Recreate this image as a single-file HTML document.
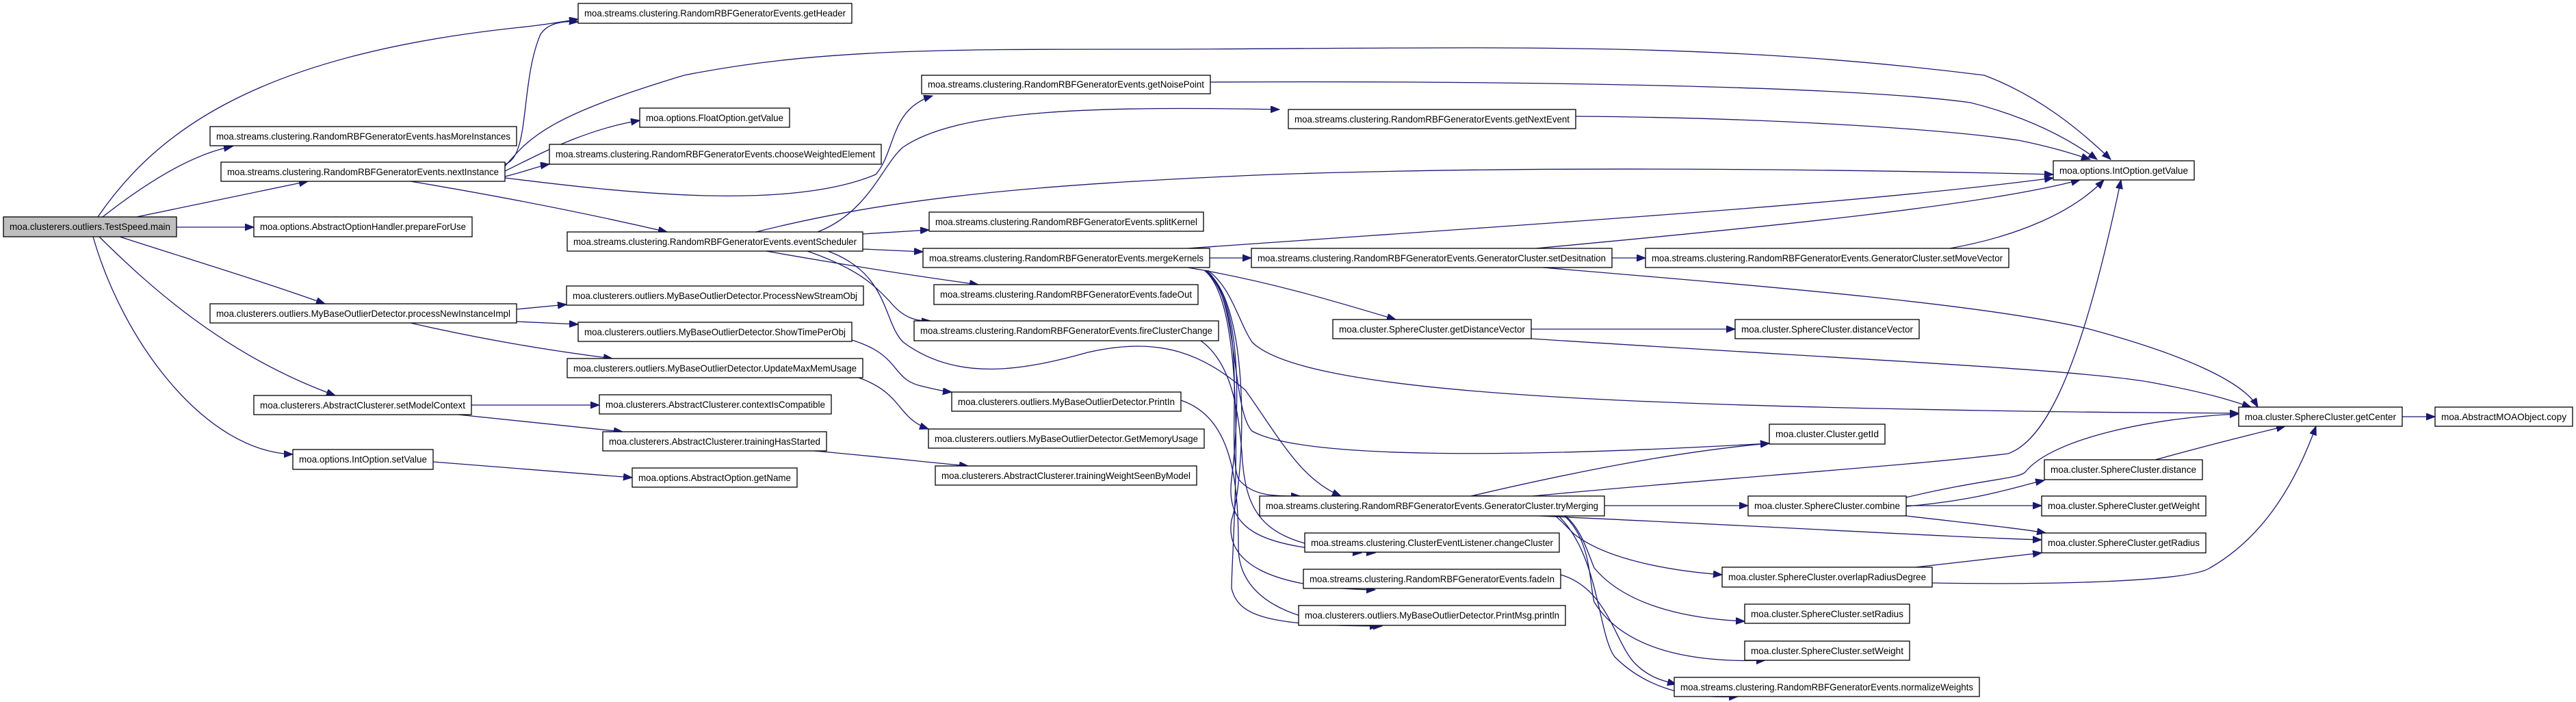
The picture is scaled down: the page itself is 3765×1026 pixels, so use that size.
<!DOCTYPE html>
<html><head><meta charset="utf-8"><style>
html,body{margin:0;padding:0;background:#fff;}
svg{display:block;}
text{font-family:"Liberation Sans",sans-serif;font-size:14px;fill:#000;}
.e{fill:none;stroke:#191970;stroke-width:1.3;marker-end:url(#a);}
rect{fill:#fff;stroke:#000;stroke-width:1.3;}
</style></head><body>
<svg width="3765" height="1026" viewBox="0 0 3765 1026" xmlns="http://www.w3.org/2000/svg">
<defs><marker id="a" markerUnits="userSpaceOnUse" markerWidth="14" markerHeight="12" refX="13" refY="5" orient="auto"><path d="M0,0 L13,5 L0,10 z" fill="#191970" stroke="#191970"/></marker></defs>

<!-- edges -->
<path class="e" d="M143,317 C230,190 380,80 760,40 C800,36 820,32 845,28"/>
<path class="e" d="M150,317 C210,270 280,225 340,214"/>
<path class="e" d="M200,317 C280,300 380,280 450,265"/>
<path class="e" d="M258,332 L371,332"/>
<path class="e" d="M175,346 C280,380 380,410 475,444"/>
<path class="e" d="M145,346 C220,420 330,520 490,578"/>
<path class="e" d="M136,346 C180,500 300,660 428,664"/>
<path class="e" d="M738,240 C775,230 760,120 790,50 C800,35 820,30 845,32"/>
<path class="e" d="M738,243 C775,200 800,170 1000,110 C1200,70 1400,72 1700,72 C2200,70 2500,60 2900,110 C2980,140 3040,190 3085,233"/>
<path class="e" d="M738,250 C780,230 850,190 935,176"/>
<path class="e" d="M738,258 C770,250 790,242 803,240"/>
<path class="e" d="M600,265 C720,285 850,310 975,339"/>
<path class="e" d="M738,260 C900,280 1150,310 1280,255 C1310,220 1300,160 1363,140"/>
<path class="e" d="M1105,339 C1300,290 1500,270 1860,255 C2300,240 2800,250 3001,255"/>
<path class="e" d="M1769,120 C2200,118 2700,125 2880,150 C2960,170 3020,200 3065,233"/>
<path class="e" d="M1195,339 C1270,310 1290,240 1320,215 C1400,160 1600,155 1870,160"/>
<path class="e" d="M2303,170 C2600,172 2850,190 2950,205 C3000,215 3030,225 3055,233"/>
<path class="e" d="M1261,342 L1358,336"/>
<path class="e" d="M1261,364 L1349,368"/>
<path class="e" d="M1120,367 C1250,390 1350,405 1430,416"/>
<path class="e" d="M1180,367 C1260,395 1280,420 1300,440 C1320,465 1340,470 1360,469"/>
<path class="e" d="M1210,367 C1300,400 1290,470 1320,500 C1400,560 1500,540 1590,515 C1700,490 1760,520 1820,570 C1870,640 1900,700 1960,725"/>
<path class="e" d="M1768,377 L1829,377"/>
<path class="e" d="M1736,363 C2200,330 2700,300 3001,260"/>
<path class="e" d="M1736,391 C1850,410 1950,440 2040,467"/>
<path class="e" d="M1765,395 C1800,420 1810,470 1830,500 C1900,570 2300,590 2900,600 C3050,603 3150,603 3272,604"/>
<path class="e" d="M1763,395 C1810,430 1800,600 1830,630 C1900,670 2200,670 2586,648"/>
<path class="e" d="M1762,395 C1820,440 1810,620 1800,700 C1790,780 1850,800 1990,808"/>
<path class="e" d="M1761,395 C1830,440 1820,700 1800,760 C1790,820 1850,860 2010,862"/>
<path class="e" d="M1760,395 C1830,450 1800,800 1800,860 C1810,900 1850,915 2020,915"/>
<path class="e" d="M1762,395 C1830,460 1790,650 1810,700 C1830,725 1860,725 1900,725"/>
<path class="e" d="M2356,377 L2405,377"/>
<path class="e" d="M2245,363 C2600,330 2900,300 3040,263"/>
<path class="e" d="M2255,391 C2600,420 2900,445 3050,480 C3200,520 3280,560 3300,595"/>
<path class="e" d="M2850,363 C2950,345 3030,310 3075,263"/>
<path class="e" d="M2238,481 L2536,481"/>
<path class="e" d="M2238,495 C2700,525 3050,540 3150,560 C3230,575 3260,585 3290,595"/>
<path class="e" d="M1755,498 C1800,530 1810,600 1815,660 C1820,760 1850,800 2010,808"/>
<path class="e" d="M1726,585 C1800,610 1810,700 1810,800 C1810,880 1900,915 2015,915"/>
<path class="e" d="M2150,725 C2300,690 2450,660 2586,648"/>
<path class="e" d="M2240,725 C2500,700 2800,680 2935,663 C3000,640 3050,500 3100,263"/>
<path class="e" d="M2345,739 L2555,739"/>
<path class="e" d="M2250,754 C2600,770 2850,785 2984,789"/>
<path class="e" d="M2786,727 C2900,700 2950,700 2960,690 C3000,640 3150,610 3272,605"/>
<path class="e" d="M2786,740 C2900,730 2950,710 2988,702"/>
<path class="e" d="M2786,739 L2984,739"/>
<path class="e" d="M2786,754 C2880,765 2950,772 2990,779"/>
<path class="e" d="M2800,829 C2880,820 2950,812 2984,808"/>
<path class="e" d="M2824,852 C3000,855 3200,850 3230,830 C3300,790 3350,720 3385,623"/>
<path class="e" d="M3150,672 C3230,650 3290,635 3340,623"/>
<path class="e" d="M3511,609 L3559,609"/>
<path class="e" d="M2150,725 C2250,720 2270,750 2300,780 C2350,820 2450,835 2517,840"/>
<path class="e" d="M2200,725 C2300,730 2310,780 2330,830 C2380,890 2480,905 2550,908"/>
<path class="e" d="M2220,725 C2330,740 2320,840 2330,880 C2380,960 2500,968 2580,965"/>
<path class="e" d="M2230,725 C2340,760 2330,920 2360,960 C2420,1020 2500,1020 2540,1018"/>
<path class="e" d="M2281,840 C2350,860 2360,940 2390,970 C2410,990 2430,995 2450,1000"/>
<path class="e" d="M755,452 L828,445"/>
<path class="e" d="M755,470 L845,474"/>
<path class="e" d="M600,472 C700,495 800,512 895,524"/>
<path class="e" d="M1245,497 C1320,520 1300,555 1350,565 C1370,570 1380,572 1391,573"/>
<path class="e" d="M1255,552 C1320,575 1310,610 1357,627"/>
<path class="e" d="M689,592 L876,592"/>
<path class="e" d="M670,606 C760,615 850,625 910,631"/>
<path class="e" d="M1190,659 C1290,668 1360,676 1415,681"/>
<path class="e" d="M633,675 C750,685 850,692 924,698"/>

<!-- nodes -->
<rect x="5" y="317" width="253" height="29" style="fill:#bfbfbf"/><text x="131.5" y="336" text-anchor="middle" textLength="235" lengthAdjust="spacingAndGlyphs">moa.clusterers.outliers.TestSpeed.main</text>
<rect x="845" y="5" width="400" height="29"/><text x="1045" y="24" text-anchor="middle" textLength="382" lengthAdjust="spacingAndGlyphs">moa.streams.clustering.RandomRBFGeneratorEvents.getHeader</text>
<rect x="307" y="185" width="448" height="28"/><text x="531" y="204" text-anchor="middle" textLength="430" lengthAdjust="spacingAndGlyphs">moa.streams.clustering.RandomRBFGeneratorEvents.hasMoreInstances</text>
<rect x="323" y="237" width="415" height="28"/><text x="530.5" y="256" text-anchor="middle" textLength="397" lengthAdjust="spacingAndGlyphs">moa.streams.clustering.RandomRBFGeneratorEvents.nextInstance</text>
<rect x="371" y="317" width="319" height="29"/><text x="530.5" y="336" text-anchor="middle" textLength="301" lengthAdjust="spacingAndGlyphs">moa.options.AbstractOptionHandler.prepareForUse</text>
<rect x="307" y="444" width="448" height="28"/><text x="531" y="463" text-anchor="middle" textLength="430" lengthAdjust="spacingAndGlyphs">moa.clusterers.outliers.MyBaseOutlierDetector.processNewInstanceImpl</text>
<rect x="371" y="578" width="318" height="28"/><text x="530" y="597" text-anchor="middle" textLength="300" lengthAdjust="spacingAndGlyphs">moa.clusterers.AbstractClusterer.setModelContext</text>
<rect x="428" y="657" width="205" height="29"/><text x="530.5" y="676" text-anchor="middle" textLength="187" lengthAdjust="spacingAndGlyphs">moa.options.IntOption.setValue</text>
<rect x="935" y="158" width="219" height="28"/><text x="1044.5" y="177" text-anchor="middle" textLength="201" lengthAdjust="spacingAndGlyphs">moa.options.FloatOption.getValue</text>
<rect x="803" y="211" width="485" height="29"/><text x="1045.5" y="230" text-anchor="middle" textLength="467" lengthAdjust="spacingAndGlyphs">moa.streams.clustering.RandomRBFGeneratorEvents.chooseWeightedElement</text>
<rect x="1347" y="110" width="422" height="27"/><text x="1558" y="128" text-anchor="middle" textLength="404" lengthAdjust="spacingAndGlyphs">moa.streams.clustering.RandomRBFGeneratorEvents.getNoisePoint</text>
<rect x="829" y="339" width="432" height="28"/><text x="1045" y="358" text-anchor="middle" textLength="414" lengthAdjust="spacingAndGlyphs">moa.streams.clustering.RandomRBFGeneratorEvents.eventScheduler</text>
<rect x="1358" y="310" width="401" height="28"/><text x="1558.5" y="329" text-anchor="middle" textLength="383" lengthAdjust="spacingAndGlyphs">moa.streams.clustering.RandomRBFGeneratorEvents.splitKernel</text>
<rect x="1349" y="363" width="419" height="28"/><text x="1558.5" y="382" text-anchor="middle" textLength="401" lengthAdjust="spacingAndGlyphs">moa.streams.clustering.RandomRBFGeneratorEvents.mergeKernels</text>
<rect x="1365" y="416" width="386" height="29"/><text x="1558" y="435" text-anchor="middle" textLength="368" lengthAdjust="spacingAndGlyphs">moa.streams.clustering.RandomRBFGeneratorEvents.fadeOut</text>
<rect x="1336" y="469" width="445" height="29"/><text x="1558.5" y="488" text-anchor="middle" textLength="427" lengthAdjust="spacingAndGlyphs">moa.streams.clustering.RandomRBFGeneratorEvents.fireClusterChange</text>
<rect x="828" y="418" width="434" height="28"/><text x="1045" y="437" text-anchor="middle" textLength="416" lengthAdjust="spacingAndGlyphs">moa.clusterers.outliers.MyBaseOutlierDetector.ProcessNewStreamObj</text>
<rect x="845" y="471" width="400" height="28"/><text x="1045" y="490" text-anchor="middle" textLength="382" lengthAdjust="spacingAndGlyphs">moa.clusterers.outliers.MyBaseOutlierDetector.ShowTimePerObj</text>
<rect x="829" y="524" width="432" height="28"/><text x="1045" y="543" text-anchor="middle" textLength="414" lengthAdjust="spacingAndGlyphs">moa.clusterers.outliers.MyBaseOutlierDetector.UpdateMaxMemUsage</text>
<rect x="876" y="577" width="339" height="28"/><text x="1045.5" y="596" text-anchor="middle" textLength="321" lengthAdjust="spacingAndGlyphs">moa.clusterers.AbstractClusterer.contextIsCompatible</text>
<rect x="881" y="631" width="327" height="28"/><text x="1044.5" y="650" text-anchor="middle" textLength="309" lengthAdjust="spacingAndGlyphs">moa.clusterers.AbstractClusterer.trainingHasStarted</text>
<rect x="924" y="684" width="241" height="28"/><text x="1044.5" y="703" text-anchor="middle" textLength="223" lengthAdjust="spacingAndGlyphs">moa.options.AbstractOption.getName</text>
<rect x="1391" y="573" width="335" height="28"/><text x="1558.5" y="592" text-anchor="middle" textLength="317" lengthAdjust="spacingAndGlyphs">moa.clusterers.outliers.MyBaseOutlierDetector.PrintIn</text>
<rect x="1357" y="627" width="403" height="28"/><text x="1558.5" y="646" text-anchor="middle" textLength="385" lengthAdjust="spacingAndGlyphs">moa.clusterers.outliers.MyBaseOutlierDetector.GetMemoryUsage</text>
<rect x="1367" y="681" width="382" height="28"/><text x="1558" y="700" text-anchor="middle" textLength="364" lengthAdjust="spacingAndGlyphs">moa.clusterers.AbstractClusterer.trainingWeightSeenByModel</text>
<rect x="1883" y="160" width="420" height="28"/><text x="2093" y="179" text-anchor="middle" textLength="402" lengthAdjust="spacingAndGlyphs">moa.streams.clustering.RandomRBFGeneratorEvents.getNextEvent</text>
<rect x="1829" y="363" width="527" height="28"/><text x="2092.5" y="382" text-anchor="middle" textLength="509" lengthAdjust="spacingAndGlyphs">moa.streams.clustering.RandomRBFGeneratorEvents.GeneratorCluster.setDesitnation</text>
<rect x="2405" y="363" width="531" height="28"/><text x="2670.5" y="382" text-anchor="middle" textLength="513" lengthAdjust="spacingAndGlyphs">moa.streams.clustering.RandomRBFGeneratorEvents.GeneratorCluster.setMoveVector</text>
<rect x="1948" y="467" width="290" height="28"/><text x="2093" y="486" text-anchor="middle" textLength="272" lengthAdjust="spacingAndGlyphs">moa.cluster.SphereCluster.getDistanceVector</text>
<rect x="2536" y="467" width="269" height="28"/><text x="2670.5" y="486" text-anchor="middle" textLength="251" lengthAdjust="spacingAndGlyphs">moa.cluster.SphereCluster.distanceVector</text>
<rect x="2586" y="620" width="169" height="29"/><text x="2670.5" y="639" text-anchor="middle" textLength="151" lengthAdjust="spacingAndGlyphs">moa.cluster.Cluster.getId</text>
<rect x="1841" y="725" width="504" height="29"/><text x="2093" y="744" text-anchor="middle" textLength="486" lengthAdjust="spacingAndGlyphs">moa.streams.clustering.RandomRBFGeneratorEvents.GeneratorCluster.tryMerging</text>
<rect x="2555" y="725" width="231" height="29"/><text x="2670.5" y="744" text-anchor="middle" textLength="213" lengthAdjust="spacingAndGlyphs">moa.cluster.SphereCluster.combine</text>
<rect x="1907" y="779" width="372" height="28"/><text x="2093" y="798" text-anchor="middle" textLength="354" lengthAdjust="spacingAndGlyphs">moa.streams.clustering.ClusterEventListener.changeCluster</text>
<rect x="1905" y="832" width="376" height="28"/><text x="2093" y="851" text-anchor="middle" textLength="358" lengthAdjust="spacingAndGlyphs">moa.streams.clustering.RandomRBFGeneratorEvents.fadeIn</text>
<rect x="1898" y="885" width="390" height="29"/><text x="2093" y="904" text-anchor="middle" textLength="372" lengthAdjust="spacingAndGlyphs">moa.clusterers.outliers.MyBaseOutlierDetector.PrintMsg.println</text>
<rect x="2517" y="829" width="307" height="29"/><text x="2670.5" y="848" text-anchor="middle" textLength="289" lengthAdjust="spacingAndGlyphs">moa.cluster.SphereCluster.overlapRadiusDegree</text>
<rect x="2550" y="883" width="241" height="28"/><text x="2670.5" y="902" text-anchor="middle" textLength="223" lengthAdjust="spacingAndGlyphs">moa.cluster.SphereCluster.setRadius</text>
<rect x="2550" y="937" width="241" height="28"/><text x="2670.5" y="956" text-anchor="middle" textLength="223" lengthAdjust="spacingAndGlyphs">moa.cluster.SphereCluster.setWeight</text>
<rect x="2447" y="990" width="446" height="28"/><text x="2670" y="1009" text-anchor="middle" textLength="428" lengthAdjust="spacingAndGlyphs">moa.streams.clustering.RandomRBFGeneratorEvents.normalizeWeights</text>
<rect x="3001" y="235" width="206" height="28"/><text x="3104" y="254" text-anchor="middle" textLength="188" lengthAdjust="spacingAndGlyphs">moa.options.IntOption.getValue</text>
<rect x="3272" y="595" width="239" height="28"/><text x="3391.5" y="614" text-anchor="middle" textLength="221" lengthAdjust="spacingAndGlyphs">moa.cluster.SphereCluster.getCenter</text>
<rect x="3559" y="595" width="201" height="28"/><text x="3659.5" y="614" text-anchor="middle" textLength="183" lengthAdjust="spacingAndGlyphs">moa.AbstractMOAObject.copy</text>
<rect x="2988" y="672" width="231" height="29"/><text x="3103.5" y="691" text-anchor="middle" textLength="213" lengthAdjust="spacingAndGlyphs">moa.cluster.SphereCluster.distance</text>
<rect x="2984" y="725" width="240" height="29"/><text x="3104" y="744" text-anchor="middle" textLength="222" lengthAdjust="spacingAndGlyphs">moa.cluster.SphereCluster.getWeight</text>
<rect x="2984" y="779" width="240" height="29"/><text x="3104" y="798" text-anchor="middle" textLength="222" lengthAdjust="spacingAndGlyphs">moa.cluster.SphereCluster.getRadius</text>
</svg>
</body></html>
